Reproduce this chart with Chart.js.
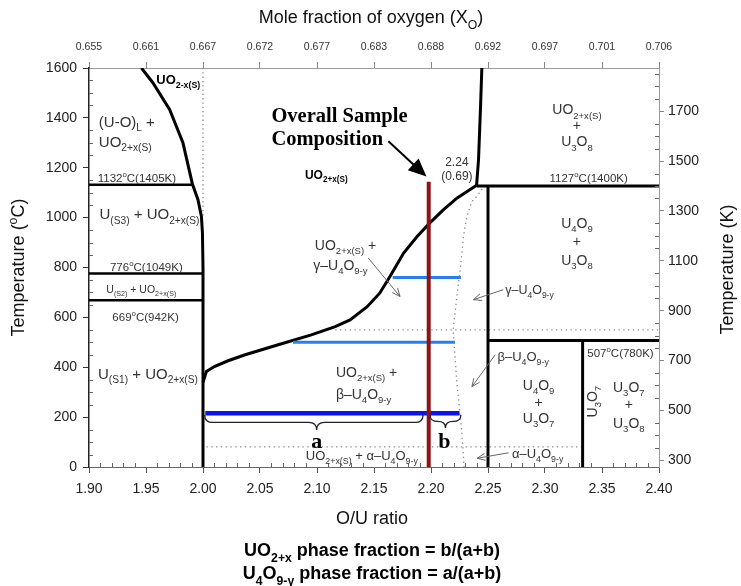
<!DOCTYPE html>
<html>
<head>
<meta charset="utf-8">
<script src="https://cdn.jsdelivr.net/npm/chart.js@4.4.1/dist/chart.umd.min.js"></script>
<style>
    body{ margin:0; background:#fff; }
    canvas{ display:block; }
</style>
</head>
<body>
<canvas id="diagrama" width="741" height="586"></canvas>
<script>
// eixos
const xTicks = [1.90, 1.95, 2.00, 2.05, 2.10, 2.15, 2.20, 2.25, 2.30, 2.35, 2.40]
const xoLabels = ["0.655", "0.661", "0.667", "0.672", "0.677", "0.683", "0.688", "0.692", "0.697", "0.701", "0.706"]
const tempTicks = [0, 200, 400, 600, 800, 1000, 1200, 1400, 1600]
const kelvinTicks = [300, 500, 700, 900, 1100, 1300, 1500, 1700]

// linhas do diagrama [O/U, T(C)]
const uo2MenosX = [[1.946, 1600], [1.956, 1541], [1.9707, 1434], [1.9824, 1300], [1.9907, 1135], [1.9956, 1072], [1.9986, 1005], [1.9995, 940], [2.00, 800], [2.00, 0]]
const iso1132 = [[1.90, 1132], [1.9907, 1132]]
const iso776 = [[1.90, 776], [2.00, 776]]
const iso669 = [[1.90, 669], [2.00, 669]]
const uo2MaisX = [[2.000, 340], [2.003, 383], [2.010, 403], [2.022, 426], [2.037, 450], [2.066, 490], [2.095, 530], [2.116, 563], [2.129, 590], [2.144, 643], [2.155, 697], [2.164, 764], [2.176, 858], [2.188, 925], [2.199, 979], [2.211, 1032], [2.223, 1079], [2.234, 1112], [2.240, 1130]]
const limiteU3O8 = [[2.240, 1130], [2.2417, 1233], [2.2435, 1450], [2.2446, 1600]]
const iso1127 = [[2.240, 1127], [2.40, 1127]]
const linhaU4O9 = [[2.25, 1127], [2.25, 0]]
const iso507 = [[2.25, 507], [2.40, 507]]
const linhaU3O7 = [[2.333, 507], [2.333, 0]]
const u4o9Pontos = [[2.241, 1127], [2.2446, 1112], [2.2402, 1085], [2.2359, 1065], [2.2315, 1005], [2.2285, 925], [2.2256, 791], [2.2227, 684], [2.2194, 550], [2.2227, 337], [2.2271, 137], [2.229, 0]]
const vertical200 = [[2.00, 1600], [2.00, 1005]]
const trans550 = [[2.116, 550], [2.40, 550]]
const trans80 = [[2.003, 81], [2.333, 81]]
const amostra = [[2.198, 1144], [2.198, 0]]
const tieGama = [[2.1664, 760], [2.2262, 760]]
const tieBeta = [[2.079, 500], [2.221, 500]]
const tieAlfa = [[2.002, 216], [2.225, 216]]

// textos no diagrama (posicao em O/U e T)
const rotulos = [
    ["UO_{2-x(S)}", 1.959, 1554, "left", 13, "bold", "#000"],
    ["(U-O)_{L} +", 1.9086, 1386, "left", 15, "normal", "#333"],
    ["UO_{2+x(S)}", 1.9086, 1305, "left", 15, "normal", "#333"],
    ["1132^{o}C(1405K)", 1.942, 1159, "center", 11.5, "normal", "#333"],
    ["U_{(S3)} + UO_{2+x(S)}", 1.9092, 1016, "left", 15, "normal", "#333"],
    ["776^{o}C(1049K)", 1.9503, 804, "center", 11.5, "normal", "#333"],
    ["U_{(S2)} + UO_{2+x(S)}", 1.9459, 714, "center", 10.5, "normal", "#333"],
    ["669^{o}C(942K)", 1.9496, 604, "center", 11.5, "normal", "#333"],
    ["U_{(S1)} + UO_{2+x(S)}", 1.9517, 376, "center", 15, "normal", "#333"],
    ["UO_{2+x(S)}", 2.0894, 1173, "left", 12, "bold", "#000"],
    ["2.24", 2.2227, 1226, "center", 12, "normal", "#333"],
    ["(0.69)", 2.2227, 1169, "center", 12, "normal", "#333"],
    ["UO_{2+x(S)} +", 2.0981, 892, "left", 14, "normal", "#333"],
    ["γ–U_{4}O_{9-y}", 2.0967, 811, "left", 14, "normal", "#333"],
    ["UO_{2+x(S)} +", 2.1166, 383, "left", 14, "normal", "#333"],
    ["β–U_{4}O_{9-y}", 2.1166, 293, "left", 14, "normal", "#333"],
    ["UO_{2+x(S)} + α–U_{4}O_{9-y}", 2.0902, 45, "left", 13, "normal", "#333"],
    ["γ–U_{4}O_{9-y}", 2.2651, 711, "left", 12.5, "normal", "#333"],
    ["β–U_{4}O_{9-y}", 2.2583, 443, "left", 13, "normal", "#333"],
    ["α–U_{4}O_{9-y}", 2.271, 55, "left", 13, "normal", "#333"],
    ["UO_{2+x(S)}", 2.328, 1434, "center", 14, "normal", "#333"],
    ["+", 2.328, 1373, "center", 14, "normal", "#333"],
    ["U_{3}O_{8}", 2.328, 1306, "center", 14, "normal", "#333"],
    ["1127^{o}C(1400K)", 2.3383, 1159, "center", 11.5, "normal", "#333"],
    ["U_{4}O_{9}", 2.328, 979, "center", 14, "normal", "#333"],
    ["+", 2.328, 905, "center", 14, "normal", "#333"],
    ["U_{3}O_{8}", 2.328, 831, "center", 14, "normal", "#333"],
    ["507^{o}C(780K)", 2.3662, 457, "center", 11.5, "normal", "#333"],
    ["U_{4}O_{9}", 2.2944, 329, "center", 14, "normal", "#333"],
    ["+", 2.2944, 262, "center", 14, "normal", "#333"],
    ["U_{3}O_{7}", 2.2944, 196, "center", 14, "normal", "#333"],
    ["U_{3}O_{7}", 2.3735, 322, "center", 14, "normal", "#333"],
    ["+", 2.3735, 253, "center", 14, "normal", "#333"],
    ["U_{3}O_{8}", 2.3735, 178, "center", 14, "normal", "#333"]
]

const setas = [
    [2.145, 838, 2.1728, 684],
    [2.2634, 711, 2.2373, 671],
    [2.2563, 450, 2.2359, 322],
    [2.268, 57, 2.2405, 35]
]

const SANS = "'Liberation Sans', Arial, sans-serif"
const SERIF = "'Liberation Serif', 'Times New Roman', serif"

function pares(lista){
    return lista.map(p => ({ x: p[0], y: p[1] }))
}

function linha(dados, cor, largura, tracejado){
    return {
        data: pares(dados),
        showLine: true,
        borderColor: cor,
        borderWidth: largura,
        borderDash: tracejado || [],
        pointRadius: 0,
        fill: false,
        tension: 0
    }
}

function partesTexto(s){
    const partes = []
    let buf = ""
    let i = 0
    while(i < s.length){
        const c = s[i]
        if((c === "_" || c === "^") && s[i + 1] === "{"){
            if(buf){ partes.push({ t: buf, m: 0 }); buf = "" }
            const j = s.indexOf("}", i)
            partes.push({ t: s.slice(i + 2, j), m: c === "_" ? 1 : 2 })
            i = j + 1
        } else {
            buf += c
            i++
        }
    }
    if(buf){ partes.push({ t: buf, m: 0 }) }
    return partes
}

function textoRico(ctx, s, x, y, alinhar, tam, peso, cor, familia){
    const partes = partesTexto(s)
    const fam = familia || SANS
    const sub = tam * 0.68
    let total = 0
    partes.forEach(p => {
        ctx.font = `${peso} ${p.m ? sub : tam}px ${fam}`
        p.w = ctx.measureText(p.t).width
        total += p.w
    })
    let cx = alinhar === "center" ? x - total / 2 : (alinhar === "right" ? x - total : x)
    const base = y + tam * 0.36
    ctx.fillStyle = cor
    ctx.textBaseline = "alphabetic"
    ctx.textAlign = "left"
    partes.forEach(p => {
        ctx.font = `${peso} ${p.m ? sub : tam}px ${fam}`
        const dy = p.m === 1 ? tam * 0.3 : (p.m === 2 ? -tam * 0.42 : 0)
        ctx.fillText(p.t, cx, base + dy)
        cx += p.w
    })
}

function seta(ctx, x1, y1, x2, y2, cor, largura, cabeca, meia, cheia){
    const ang = Math.atan2(y2 - y1, x2 - x1)
    ctx.save()
    ctx.strokeStyle = cor
    ctx.fillStyle = cor
    ctx.lineWidth = largura
    const fx = cheia ? x2 - cabeca * 0.8 * Math.cos(ang) : x2
    const fy = cheia ? y2 - cabeca * 0.8 * Math.sin(ang) : y2
    ctx.beginPath()
    ctx.moveTo(x1, y1)
    ctx.lineTo(fx, fy)
    ctx.stroke()
    const bx = x2 - cabeca * Math.cos(ang)
    const by = y2 - cabeca * Math.sin(ang)
    const ax = meia * Math.sin(ang)
    const ay = -meia * Math.cos(ang)
    ctx.beginPath()
    ctx.moveTo(bx + ax, by + ay)
    ctx.lineTo(x2, y2)
    ctx.lineTo(bx - ax, by - ay)
    if(cheia){
        ctx.closePath()
        ctx.fill()
    } else {
        ctx.stroke()
    }
    ctx.restore()
}

function chave(ctx, x1, x2, xm, y0, prof){
    const r = Math.min(8, (x2 - x1) / 4)
    const meio = y0 + prof / 2
    ctx.beginPath()
    ctx.moveTo(x1, y0)
    ctx.quadraticCurveTo(x1, meio, x1 + r, meio)
    ctx.lineTo(xm - r, meio)
    ctx.quadraticCurveTo(xm, meio, xm, y0 + prof)
    ctx.quadraticCurveTo(xm, meio, xm + r, meio)
    ctx.lineTo(x2 - r, meio)
    ctx.quadraticCurveTo(x2, meio, x2, y0)
    ctx.stroke()
}

const anotacoes = {
    id: "anotacoes",
    afterDatasetsDraw(chart){
        const ctx = chart.ctx
        const sx = chart.scales.x
        const sy = chart.scales.y
        const sk = chart.scales.y2
        const area = chart.chartArea
        const px = v => sx.getPixelForValue(v)
        const py = v => sy.getPixelForValue(v)

        ctx.save()

        // ticks menores (para dentro)
        ctx.strokeStyle = "#666"
        ctx.lineWidth = 1
        ctx.beginPath()
        for(let t = 50; t < 1600; t += 50){
            if(t % 200 === 0){ continue }
            const y = Math.round(py(t)) + 0.5
            ctx.moveTo(area.left, y)
            ctx.lineTo(area.left + 4, y)
        }
        for(let k = 1; k < 50; k++){
            if(k % 5 === 0){ continue }
            const x = Math.round(px(1.90 + k * 0.01)) + 0.5
            ctx.moveTo(x, area.bottom)
            ctx.lineTo(x, area.bottom - 4)
        }
        for(let t = 350; t < 1873; t += 50){
            if((t - 300) % 200 === 0){ continue }
            const y = Math.round(sk.getPixelForValue(t)) + 0.5
            ctx.moveTo(area.right, y)
            ctx.lineTo(area.right - 4, y)
        }
        ctx.stroke()

        // textos das regioes
        rotulos.forEach(r => {
            textoRico(ctx, r[0], px(r[1]), py(r[2]), r[3], r[4], r[5], r[6])
        })

        // U3O7 vertical
        ctx.save()
        ctx.translate(px(2.3413), py(262))
        ctx.rotate(-Math.PI / 2)
        textoRico(ctx, "U_{3}O_{7}", 0, 0, "center", 14, "normal", "#333")
        ctx.restore()

        // composicao da amostra
        textoRico(ctx, "Overall Sample", px(2.06), py(1414), "left", 20.5, "bold", "#000", SERIF)
        textoRico(ctx, "Composition", px(2.06), py(1320), "left", 20.5, "bold", "#000", SERIF)
        seta(ctx, px(2.1626), py(1306), px(2.196), py(1165), "#000", 2, 18, 8, true)

        setas.forEach(s => {
            seta(ctx, px(s[0]), py(s[1]), px(s[2]), py(s[3]), "#666", 1, 8, 3.5, false)
        })

        // chaves a e b
        ctx.strokeStyle = "#222"
        ctx.lineWidth = 1.3
        chave(ctx, px(2.0015), px(2.193), px(2.0997), py(209), 15)
        chave(ctx, px(2.1992), px(2.2262), px(2.2127), py(209), 13)
        textoRico(ctx, "a", px(2.0997), py(108), "center", 22, "bold", "#000", SERIF)
        textoRico(ctx, "b", px(2.2118), py(108), "center", 22, "bold", "#000", SERIF)

        // titulos dos eixos
        const cx = (area.left + area.right) / 2
        const cy = (area.top + area.bottom) / 2
        textoRico(ctx, "Mole fraction of oxygen (X_{O})", cx - 3, 17, "center", 18, "normal", "#111")
        textoRico(ctx, "O/U ratio", cx - 2, 518, "center", 18, "normal", "#111")
        textoRico(ctx, "UO_{2+x} phase fraction = b/(a+b)", cx - 2, 550, "center", 18, "bold", "#000")
        textoRico(ctx, "U_{4}O_{9-y} phase fraction = a/(a+b)", cx - 2, 573, "center", 18, "bold", "#000")

        ctx.save()
        ctx.translate(18, cy)
        ctx.rotate(-Math.PI / 2)
        textoRico(ctx, "Temperature (^{o}C)", 0, 0, "center", 18, "normal", "#111")
        ctx.restore()

        ctx.save()
        ctx.translate(727, cy + 2)
        ctx.rotate(-Math.PI / 2)
        textoRico(ctx, "Temperature (K)", 0, 0, "center", 18, "normal", "#111")
        ctx.restore()

        ctx.restore()
    }
}

const fundoBranco = {
    id: "fundoBranco",
    beforeDraw(chart){
        const ctx = chart.ctx
        ctx.save()
        ctx.fillStyle = "#fff"
        ctx.fillRect(0, 0, chart.width, chart.height)
        ctx.restore()
    }
}

const PRETO = "#000"
const PONTILHADO = "#888"

const datasets = [
    linha(amostra, "#8b1414", 4),
    linha(tieAlfa, "#0a14f0", 4.5),
    linha(tieBeta, "#2a7cf0", 3),
    linha(tieGama, "#2a7cf0", 3),
    linha(uo2MenosX, PRETO, 3),
    linha(iso1132, PRETO, 2.5),
    linha(iso776, PRETO, 2.5),
    linha(iso669, PRETO, 2.5),
    linha(uo2MaisX, PRETO, 3),
    linha(limiteU3O8, PRETO, 3),
    linha(iso1127, PRETO, 3),
    linha(linhaU4O9, PRETO, 3),
    linha(iso507, PRETO, 3),
    linha(linhaU3O7, PRETO, 3),
    linha(u4o9Pontos, PONTILHADO, 1.3, [1.3, 3.5]),
    linha(vertical200, PONTILHADO, 1.3, [1.3, 3]),
    linha(trans550, PONTILHADO, 1.3, [1.3, 3.5]),
    linha(trans80, PONTILHADO, 1.3, [1.3, 3.5])
]

const fonteTick = { family: SANS, size: 14 }

new Chart(document.getElementById("diagrama"), {
    type: "scatter",
    data: { datasets },
    options: {
        responsive: false,
        devicePixelRatio: 1,
        animation: false,
        layout: { padding: 0 },
        plugins: { legend: { display: false }, tooltip: { enabled: false } },
        scales: {
            x: {
                type: "linear",
                position: "bottom",
                min: 1.90,
                max: 2.40,
                afterBuildTicks: s => { s.ticks = xTicks.map(v => ({ value: v })) },
                afterFit: s => { s.height = 119 },
                ticks: { callback: v => v.toFixed(2), font: fonteTick, color: "#222", padding: 8, autoSkip: false, maxRotation: 0 },
                grid: { drawOnChartArea: false, tickLength: 6, color: "#555" },
                border: { color: "#666", width: 1 }
            },
            x2: {
                type: "linear",
                position: "top",
                min: 1.90,
                max: 2.40,
                afterBuildTicks: s => { s.ticks = xTicks.map(v => ({ value: v })) },
                afterFit: s => { s.height = 68 },
                ticks: { callback: (v, i) => xoLabels[i], font: { family: SANS, size: 10.5 }, color: "#333", padding: 9, autoSkip: false, maxRotation: 0 },
                grid: { drawOnChartArea: false, tickLength: 6, color: "#888" },
                border: { color: "#999", width: 1 }
            },
            y: {
                type: "linear",
                position: "left",
                min: 0,
                max: 1600,
                afterBuildTicks: s => { s.ticks = tempTicks.map(v => ({ value: v })) },
                afterFit: s => { s.width = 89 },
                ticks: { callback: v => String(v), font: fonteTick, color: "#222", padding: 6 },
                grid: { drawOnChartArea: false, tickLength: 6, color: "#333" },
                border: { color: "#222", width: 1.5 }
            },
            y2: {
                type: "linear",
                position: "right",
                min: 273.15,
                max: 1873.15,
                afterBuildTicks: s => { s.ticks = kelvinTicks.map(v => ({ value: v })) },
                afterFit: s => { s.width = 82 },
                ticks: { callback: v => String(v), font: fonteTick, color: "#222", padding: 4 },
                grid: { drawOnChartArea: false, tickLength: 5, color: "#888" },
                border: { color: "#999", width: 1 }
            }
        }
    },
    plugins: [fundoBranco, anotacoes]
})
</script>
</body>
</html>
